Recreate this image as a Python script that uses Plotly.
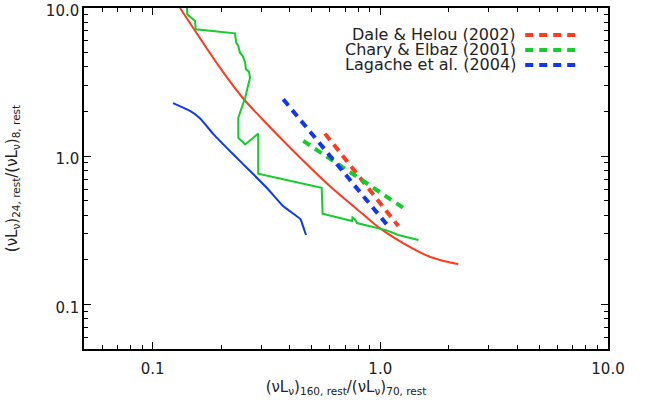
import plotly.graph_objects as go

# ---- data ----
red_x = [0.132, 0.198, 0.249, 0.318, 0.445, 0.621, 0.840, 0.998, 1.39, 1.66, 1.99, 2.20]
red_y = [10.0, 3.94, 2.47, 1.65, 0.977, 0.600, 0.406, 0.326, 0.238, 0.209, 0.193, 0.187]

blue_x = [0.123, 0.146, 0.161, 0.185, 0.226, 0.268, 0.318, 0.374, 0.445, 0.453, 0.472]
blue_y = [2.28, 2.02, 1.81, 1.41, 1.03, 0.794, 0.610, 0.461, 0.377, 0.354, 0.294]

green_x = [0.1417, 0.142, 0.1536, 0.1547, 0.230, 0.233, 0.238, 0.242, 0.249, 0.255, 0.257,
           0.265, 0.268, 0.255, 0.238, 0.238, 0.255, 0.291, 0.291, 0.553, 0.558, 0.751,
           0.755, 0.775, 0.790, 0.965, 1.067, 1.20, 1.47]
green_y = [10.0, 9.07, 8.17, 7.18, 6.75, 5.83, 5.54, 4.99, 4.74, 4.27, 3.86,
           3.72, 3.39, 2.48, 1.82, 1.33, 1.20, 1.42, 0.762, 0.613, 0.409, 0.365,
           0.386, 0.374, 0.354, 0.329, 0.316, 0.294, 0.272]

dale_x = [0.572, 1.20]
dale_y = [1.42, 0.338]
chary_x = [0.459, 1.26]
chary_y = [1.27, 0.449]
lagache_x = [0.375, 1.067]
lagache_y = [2.42, 0.347]

legend_labels = ["Dale & Helou (2002)", "Chary & Elbaz (2001)", "Lagache et al. (2004)"]

major_ticks = [0.1, 1.0, 10.0]
major_text = ["0.1", "1.0", "10.0"]
minor_ticks = [0.05, 0.06, 0.07, 0.08, 0.09, 0.2, 0.3, 0.4, 0.5, 0.6, 0.7, 0.8, 0.9,
               2, 3, 4, 5, 6, 7, 8, 9]

RED = "#ff3b1f"
GREEN = "#14cc2a"
BLUE = "#1038f0"
DASH = "8px,6px"
FONT = "DejaVu Sans"

fig = go.Figure()
fig.add_trace(go.Scatter(x=red_x, y=red_y, mode="lines",
                         line=dict(color=RED, width=2, shape="spline", smoothing=0.8),
                         showlegend=False))
fig.add_trace(go.Scatter(x=blue_x, y=blue_y, mode="lines",
                         line=dict(color=BLUE, width=2, shape="spline", smoothing=0.5),
                         showlegend=False))
fig.add_trace(go.Scatter(x=green_x, y=green_y, mode="lines", line=dict(color=GREEN, width=2),
                         showlegend=False))
for xs, ys, c in [(dale_x, dale_y, RED), (chary_x, chary_y, GREEN), (lagache_x, lagache_y, BLUE)]:
    fig.add_trace(go.Scatter(x=xs, y=ys, mode="lines", line=dict(color=c, width=4, dash=DASH),
                             showlegend=False))

axis_common = dict(
    type="log", showgrid=False, zeroline=False, showline=True, linecolor="black", linewidth=1.5,
    mirror="ticks", ticks="inside", ticklen=7, tickwidth=1.2, tickcolor="black",
    tickmode="array", tickvals=major_ticks, ticktext=major_text, automargin=False,
    ticklabeloverflow="allow",
    tickfont=dict(family=FONT, size=15, color="#222"),
    minor=dict(tickmode="array", tickvals=minor_ticks, ticks="inside", ticklen=4,
               tickwidth=1, tickcolor="black", showgrid=False),
)

fig.update_layout(
    width=648, height=400,
    margin=dict(l=84, r=40, t=8, b=51),
    plot_bgcolor="white", paper_bgcolor="white",
    xaxis=dict(range=[-1.30103, 1.0], **axis_common, ticklabelstandoff=5,
               title=dict(text="(νL<sub>ν</sub>)<sub>160, rest</sub>/(νL<sub>ν</sub>)<sub>70, rest</sub>",
                          font=dict(family=FONT, size=15, color="#222"), standoff=3)),
    yaxis=dict(range=[-1.30103, 1.0], **axis_common, ticklabelshift=3,
               title=dict(text="(νL<sub>ν</sub>)<sub>24, rest</sub>/(νL<sub>ν</sub>)<sub>8, rest</sub>",
                          font=dict(family=FONT, size=15, color="#222"), standoff=25)),
)

# legend (text right-aligned with dashed samples to its right)
rows_y = [0.921, 0.877, 0.833]
colors = [RED, GREEN, BLUE]
for lab, yy, c in zip(legend_labels, rows_y, colors):
    fig.add_annotation(x=0.828, y=yy, xref="paper", yref="paper", text=lab, showarrow=False,
                       xanchor="right", yanchor="middle",
                       font=dict(family=FONT, size=16, color="#222"))
    fig.add_shape(type="line", xref="paper", yref="paper", x0=0.842, x1=0.945, y0=yy, y1=yy,
                  line=dict(color=c, width=4, dash=DASH))

fig.write_html("out.html", config={"displayModeBar": False},
               post_script="document.body.style.margin='0';")
